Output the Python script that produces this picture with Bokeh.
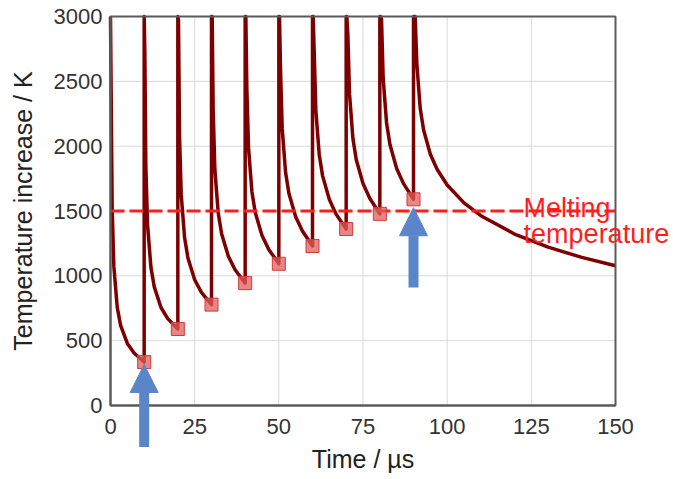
from bokeh.plotting import figure
from bokeh.models import (Range1d, FixedTicker, ColumnDataSource, Label,
                          Arrow, NormalHead, LinearAxis)
from bokeh.embed import file_html
from bokeh.resources import INLINE

# ---------------- data ----------------
pulse_times_us = [0, 10, 20, 30, 40, 50, 60, 70, 80, 90]
peak_K = 3000  # each pulse runs off the top of the scale
decay_offsets_us = [0.2, 0.5, 1, 2, 3, 5, 7, 10]
seg_0 = [2395, 1515, 1071, 757, 618, 479, 405, 335]
seg_1 = [2731, 1845, 1394, 1067, 915, 756, 670, 590]
seg_2 = [2968, 2082, 1628, 1295, 1138, 970, 872, 778]
seg_3 = [3000, 2276, 1820, 1484, 1325, 1151, 1047, 944]
seg_4 = [3000, 2444, 1987, 1649, 1488, 1311, 1204, 1093]
seg_5 = [3000, 2595, 2137, 1798, 1635, 1455, 1345, 1230]
seg_6 = [3000, 2733, 2275, 1934, 1771, 1588, 1476, 1361]
seg_7 = [3000, 2860, 2401, 2060, 1896, 1712, 1598, 1478]
seg_8 = [3000, 2979, 2520, 2179, 2013, 1828, 1713, 1590]
last_offsets_us = [0.2, 0.5, 1, 2, 3, 5, 7, 10, 15, 20, 30, 40, 50, 60]
seg_9 = [3000, 3000, 2633, 2290, 2125, 1937, 1822, 1700, 1563, 1464,
         1322, 1221, 1142, 1078]

minima_t_us = [10, 20, 30, 40, 50, 60, 70, 80, 90]
minima_K = [335, 590, 778, 944, 1093, 1230, 1361, 1478, 1590]

melting_K = 1500

arrow_t_us = [10, 90]
arrow_tip_K = [316, 1525]
arrow_tail_K = [-320, 910]

x_ticks = [0, 25, 50, 75, 100, 125, 150]
y_ticks = [0, 500, 1000, 1500, 2000, 2500, 3000]

# ---------------- build curve ----------------
segments = [seg_0, seg_1, seg_2, seg_3, seg_4, seg_5, seg_6, seg_7, seg_8, seg_9]
curve_t, curve_T = [], []
for j, (pt, seg) in enumerate(zip(pulse_times_us, segments)):
    offs = last_offsets_us if j == len(segments) - 1 else decay_offsets_us
    curve_t.append(pt)
    curve_T.append(peak_K)
    for d, v in zip(offs, seg):
        curve_t.append(pt + d)
        curve_T.append(v)

FONT = "Liberation Sans"
DARK_RED = "#7d0000"
RED = "#ff1e1e"
BLUE = "#5a86c9"
AXIS = "#5a5a5a"
GRID = "#d9d9d9"

# ---------------- layout: the frame fills the canvas, the plot box sits inside ----
W, H = 673, 479
BOX_L, BOX_R, BOX_T, BOX_B = 110, 615, 16, 405
x0, x1 = x_ticks[0], x_ticks[-1]
y0, y1 = y_ticks[0], y_ticks[-1]
sx = (BOX_R - BOX_L) / (x1 - x0)
sy = (BOX_B - BOX_T) / (y1 - y0)
x_range = Range1d(x0 - BOX_L / sx, x1 + (W - BOX_R) / sx)
y_range = Range1d(y0 - (H - BOX_B) / sy, y1 + BOX_T / sy)

p = figure(width=W, height=H, x_range=x_range, y_range=y_range,
           output_backend="svg", toolbar_location=None,
           x_axis_location=None, y_axis_location=None,
           min_border=0)
p.background_fill_color = "white"
p.border_fill_color = "white"
p.outline_line_color = None
p.xgrid.visible = False
p.ygrid.visible = False

xaxis = LinearAxis(fixed_location=y0, bounds=(x0, x1), ticker=FixedTicker(ticks=x_ticks))
yaxis = LinearAxis(fixed_location=x0, bounds=(y0, y1), ticker=FixedTicker(ticks=y_ticks))
for ax in (xaxis, yaxis):
    ax.axis_line_color = AXIS
    ax.axis_line_width = 2
    ax.major_tick_in = 0
    ax.major_tick_out = 0
    ax.minor_tick_line_color = None
    ax.major_label_text_font = FONT
    ax.major_label_text_font_size = "22px"
    ax.major_label_text_color = "#333333"
    ax.axis_label_text_font = FONT
    ax.axis_label_text_font_style = "normal"
    ax.axis_label_text_color = "#222222"
    ax.axis_label_text_font_size = "25px"
xaxis.major_label_standoff = 13
yaxis.major_label_standoff = 8
xaxis.axis_label = "Time / µs"
yaxis.axis_label = "Temperature increase / K"
xaxis.axis_label_standoff = 8
yaxis.axis_label_standoff = 14
p.add_layout(xaxis, "below")
p.add_layout(yaxis, "left")

# grid lines inside the plot box only
gx = x_ticks[1:-1]
gy = y_ticks[1:-1]
p.segment(x0=gx, x1=gx, y0=[y0] * len(gx), y1=[y1] * len(gx),
          line_color=GRID, line_width=1)
p.segment(x0=[x0] * len(gy), x1=[x1] * len(gy), y0=gy, y1=gy,
          line_color=GRID, line_width=1)

p.line(curve_t, curve_T, line_color=DARK_RED, line_width=3.5, line_join="round")

p.line([x0, x1], [melting_K, melting_K], line_color=RED, line_width=3, line_dash="14 5")

p.scatter(minima_t_us, minima_K, marker="square", size=13,
          fill_color="#e25c5c", fill_alpha=0.75, line_color="#d43a3a", line_width=1)

# plot box outline
p.quad(left=[x0], right=[x1], bottom=[y0], top=[y1], fill_color=None,
       line_color=AXIS, line_width=2)

arrow_src = ColumnDataSource(dict(t=arrow_t_us, tip=arrow_tip_K, tail=arrow_tail_K))
p.add_layout(Arrow(end=NormalHead(size=28, fill_color=BLUE, line_color=BLUE),
                   x_start="t", y_start="tail", x_end="t", y_end="tip",
                   line_color=BLUE, line_width=10, source=arrow_src))

p.add_layout(Label(x=122.7, y=1524, text="Melting", text_font=FONT,
                   text_font_size="27px", text_color=RED,
                   text_baseline="alphabetic", text_align="left"))
p.add_layout(Label(x=122.7, y=1324, text="temperature", text_font=FONT,
                   text_font_size="27px", text_color=RED,
                   text_baseline="alphabetic", text_align="left"))

open("out.html", "w").write(file_html(p, INLINE))
